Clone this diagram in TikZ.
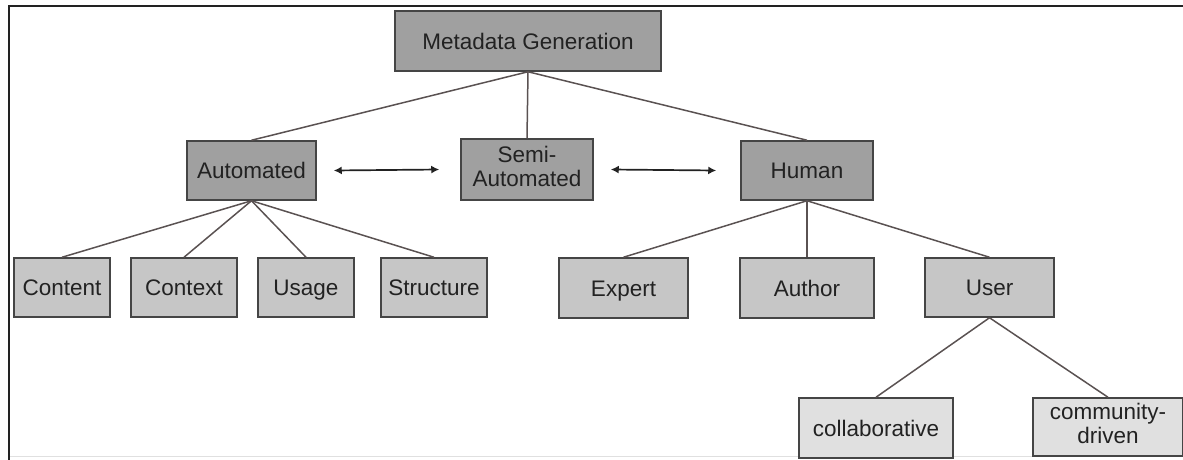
\documentclass[tikz,border=0pt]{standalone}
\usepackage{fontspec}
\setmainfont{Liberation Sans}
\usetikzlibrary{arrows.meta}

\definecolor{boxedge}{HTML}{454545}
\definecolor{linkline}{HTML}{5A5252}
\definecolor{inktext}{HTML}{222222}
\definecolor{fillA}{HTML}{A0A0A0}
\definecolor{fillB}{HTML}{C6C6C6}
\definecolor{fillC}{HTML}{E0E0E0}

% one-line label whose capitals sit centred in the box
\newcommand{\boxlabel}[1]{\smash{#1}\rule{0pt}{16pt}}

\tikzset{
  box/.style={draw=boxedge, line width=1.5pt, rectangle, inner sep=0pt,
    text=inktext, align=center,
    font=\fontsize{22.5}{24}\selectfont},
  topbox/.style={box, fill=fillA},
  leafbox/.style={box, fill=fillB},
  subleaf/.style={box, fill=fillC},
  link/.style={draw=linkline, line width=1.5pt},
  biarrow/.style={draw=inktext, line width=1.7pt,
    {Latex[length=8pt,width=8pt]}-{Latex[length=8pt,width=8pt]}},
  frame/.style={draw=inktext, line width=2pt}
}

\begin{document}
\begin{tikzpicture}[x=1pt, y=-1pt]
  \useasboundingbox (0,0) rectangle (1183,460);

  % outer frame (top and left rules)
  \coordinate (fTL) at (9,6.5);
  \coordinate (fTR) at (1190,6.5);
  \coordinate (fBL) at (9,465);
  \draw[frame] (fTR) -- (fTL) -- (fBL);
  \draw[draw=fillC, line width=1pt] (10,456) -- (1190,456);

  % root
  \node[topbox, minimum width=266pt, minimum height=60pt] (meta) at (528,41) {\boxlabel{Metadata Generation}};

  % second level
  \node[topbox, minimum width=129pt, minimum height=59pt] (auto)  at (251.5,170.5) {\boxlabel{Automated}};
  \node[topbox, minimum width=132pt, minimum height=61pt] (semi)  at (527,169.5) {Semi-\\Automated\strut};
  \node[topbox, minimum width=132pt, minimum height=59pt] (human) at (807,170.5) {\boxlabel{Human}};

  % automated sources
  \node[leafbox, minimum width=96pt,  minimum height=59pt] (content)   at (62,287.5)  {\boxlabel{Content}};
  \node[leafbox, minimum width=106pt, minimum height=59pt] (context)   at (184,287.5) {\boxlabel{Context}};
  \node[leafbox, minimum width=96pt,  minimum height=59pt] (usage)     at (306,287.5) {\boxlabel{Usage}};
  \node[leafbox, minimum width=106pt, minimum height=59pt] (structure) at (434,287.5) {\boxlabel{Structure}};

  % human sources
  \node[leafbox, minimum width=129pt, minimum height=60pt] (expert) at (623.5,288)   {\boxlabel{Expert}};
  \node[leafbox, minimum width=134pt, minimum height=60pt] (author) at (807,288)     {\boxlabel{Author}};
  \node[leafbox, minimum width=129pt, minimum height=59pt] (user)   at (989.5,287.5) {\boxlabel{User}};

  % user-generated kinds
  \node[subleaf, minimum width=154pt, minimum height=60pt] (collab) at (876,428)  {\boxlabel{collaborative}};
  \node[subleaf, minimum width=150pt, minimum height=58pt] (comm)   at (1108,427) {community-\\driven\strut};

  % tree links
  \draw[link] (meta.south) -- (auto.north);
  \draw[link] (meta.south) -- (semi.north);
  \draw[link] (meta.south) -- (human.north);

  \draw[link] (auto.south) -- (content.north);
  \draw[link] (auto.south) -- (context.north);
  \draw[link] (auto.south) -- (usage.north);
  \draw[link] (auto.south) -- (structure.north);

  \draw[link] (human.south) -- (expert.north);
  \draw[link] (human.south) -- (author.north);
  \draw[link] (human.south) -- (user.north);

  \draw[link] (user.south) -- (collab.north);
  \draw[link] (user.south) -- (comm.north);

  % spectrum arrows
  \draw[biarrow] ([xshift=17pt]auto.east) -- ([xshift=-21pt]semi.west);
  \draw[biarrow] ([xshift=17pt]semi.east) -- ([xshift=-24pt]human.west);
\end{tikzpicture}
\end{document}
